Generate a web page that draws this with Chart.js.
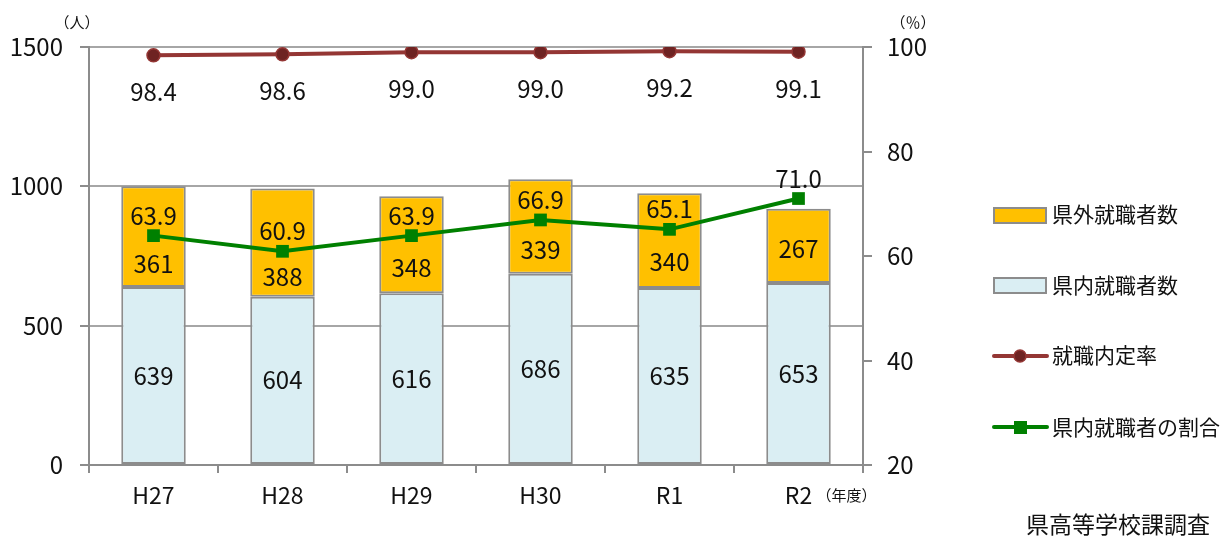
<!DOCTYPE html>
<html lang="ja">
<head>
<meta charset="utf-8">
<title>就職状況</title>
<script src="https://cdn.jsdelivr.net/npm/chart.js@4"></script>
<style>
  html, body { margin: 0; padding: 0; background: #fff; }
  #wrap { width: 1231px; height: 536px; position: relative; }
</style>
</head>
<body>
<div id="wrap"><canvas id="c" width="1231" height="536"></canvas></div>
<script>
// 年度
const years = ['H27', 'H28', 'H29', 'H30', 'R1', 'R2'];
// 県内就職者数（人）
const inPref = [639, 604, 616, 686, 635, 653];
// 県外就職者数（人）
const outPref = [361, 388, 348, 339, 340, 267];
// 就職内定率（%）
const offerRate = [98.4, 98.6, 99.0, 99.0, 99.2, 99.1];
// 県内就職者の割合（%）
const inPrefShare = [63.9, 60.9, 63.9, 66.9, 65.1, 71.0];
// 軸目盛
const countTicks = [0, 500, 1000, 1500];
const rateTicks = [20, 40, 60, 80, 100];

const FONT = "'Noto Sans CJK JP', 'Noto Sans', sans-serif";
const AXIS = '#8c8c8c';
const GRID = '#a6a6a6';
const C_OUT = '#ffc000';
const C_IN = '#daeef3';
const C_RATE = '#943634';
const C_RATE_PT = '#6e2322';
const C_SHARE = '#008000';

// 値ラベルと凡例・注記の描画
const annotate = {
  id: 'annotate',
  afterDatasetsDraw(chart) {
    const ctx = chart.ctx;
    const metaIn = chart.getDatasetMeta(0);
    const metaOut = chart.getDatasetMeta(1);
    const metaRate = chart.getDatasetMeta(2);
    const metaShare = chart.getDatasetMeta(3);
    ctx.save();
    ctx.fillStyle = '#111';
    ctx.textAlign = 'center';
    ctx.textBaseline = 'middle';
    ctx.font = '24px ' + FONT;
    years.forEach((_, i) => {
      const bIn = metaIn.data[i];
      const bOut = metaOut.data[i];
      const pR = metaRate.data[i];
      const pS = metaShare.data[i];
      // 県内：棒の中央
      ctx.fillText(String(inPref[i]), bIn.x, (bIn.y + bIn.base) / 2);
      // 県外：折れ線の点より下の部分の中央
      const top = Math.max(bOut.y, pS.y);
      ctx.fillText(String(outPref[i]), bOut.x, (top + bOut.base) / 2 + 3);
      // 割合：点の上
      ctx.fillText(inPrefShare[i].toFixed(1), pS.x, pS.y - 20);
      // 内定率：点の下
      ctx.fillText(offerRate[i].toFixed(1), pR.x, pR.y + 37);
    });

    // 単位
    ctx.font = '15px ' + FONT;
    ctx.fillText('（人）', 77, 22);
    ctx.fillText('（％）', 913, 22);
    const xs = chart.scales.x;
    ctx.textAlign = 'left';
    ctx.fillText('（年度）', xs.getPixelForValue(5) + 18, 495);

    // 出典
    ctx.font = '23px ' + FONT;
    ctx.textAlign = 'right';
    ctx.fillText('県高等学校課調査', 1210, 524);

    // 凡例
    const lx = 994, tx = 1052;
    ctx.font = '21px ' + FONT;
    ctx.textAlign = 'left';
    ctx.lineWidth = 2;
    ctx.strokeStyle = AXIS;
    ctx.fillStyle = C_OUT;
    ctx.fillRect(lx, 208, 52, 15);
    ctx.strokeRect(lx, 208, 52, 15);
    ctx.fillStyle = C_IN;
    ctx.fillRect(lx, 278, 52, 15);
    ctx.strokeRect(lx, 278, 52, 15);

    ctx.lineWidth = 4;
    ctx.lineCap = 'round';
    ctx.strokeStyle = C_RATE;
    ctx.beginPath(); ctx.moveTo(lx, 356); ctx.lineTo(lx + 53, 356); ctx.stroke();
    ctx.fillStyle = C_RATE_PT;
    ctx.lineWidth = 1.5;
    ctx.beginPath(); ctx.arc(lx + 26, 356, 6, 0, Math.PI * 2); ctx.fill(); ctx.stroke();

    ctx.lineWidth = 4;
    ctx.strokeStyle = C_SHARE;
    ctx.beginPath(); ctx.moveTo(lx, 427); ctx.lineTo(lx + 53, 427); ctx.stroke();
    ctx.fillStyle = C_SHARE;
    ctx.fillRect(lx + 20, 421, 13, 13);

    ctx.fillStyle = '#111';
    ctx.textBaseline = 'middle';
    ctx.fillText('県外就職者数', tx, 214);
    ctx.fillText('県内就職者数', tx, 285);
    ctx.fillText('就職内定率', tx, 355);
    ctx.fillText('県内就職者の割合', tx, 427);
    ctx.restore();
  }
};

new Chart(document.getElementById('c'), {
  type: 'bar',
  data: {
    labels: years,
    datasets: [
      {
        label: '県内就職者数', data: inPref, backgroundColor: C_IN,
        borderColor: AXIS, borderWidth: 2, borderSkipped: false,
        yAxisID: 'y', order: 2, barPercentage: 0.5, categoryPercentage: 1
      },
      {
        label: '県外就職者数', data: outPref, backgroundColor: C_OUT,
        borderColor: AXIS, borderWidth: 2, borderSkipped: false,
        yAxisID: 'y', order: 2, barPercentage: 0.5, categoryPercentage: 1
      },
      {
        type: 'line', label: '就職内定率', data: offerRate, yAxisID: 'y1',
        borderColor: C_RATE, borderWidth: 4, pointRadius: 6.5,
        pointBackgroundColor: C_RATE_PT, pointBorderColor: C_RATE,
        pointBorderWidth: 1.5, tension: 0, order: 0
      },
      {
        type: 'line', label: '県内就職者の割合', data: inPrefShare, yAxisID: 'y1',
        borderColor: C_SHARE, borderWidth: 4, pointStyle: 'rect', pointRadius: 9,
        pointBackgroundColor: C_SHARE, pointBorderColor: C_SHARE,
        pointBorderWidth: 0, tension: 0, order: 1
      }
    ]
  },
  plugins: [annotate],
  options: {
    responsive: false,
    animation: false,
    devicePixelRatio: 1,
    layout: { padding: { top: 47, left: 0, right: 0, bottom: 0 } },
    plugins: { legend: { display: false }, tooltip: { enabled: false } },
    scales: {
      x: {
        stacked: true,
        grid: { display: true, drawOnChartArea: false, offset: true, tickLength: 8, color: AXIS, lineWidth: 2 },
        border: { color: AXIS, width: 2 },
        ticks: { color: '#111', font: { family: FONT, size: 23 }, padding: 8 },
        afterFit(s) { s.height = 71; }
      },
      y: {
        position: 'left', stacked: true, min: 0, max: 1500,
        afterBuildTicks(s) { s.ticks = countTicks.map(v => ({ value: v })); },
        grid: { color: GRID, lineWidth: 2, tickLength: 9, tickColor: AXIS },
        border: { color: AXIS, width: 2 },
        ticks: { color: '#111', font: { family: FONT, size: 24 }, padding: 17, callback: v => String(v) },
        afterFit(s) { s.width = 89; }
      },
      y1: {
        position: 'right', min: 20, max: 100,
        afterBuildTicks(s) { s.ticks = rateTicks.map(v => ({ value: v })); },
        grid: { drawOnChartArea: false, tickLength: 9, color: AXIS, lineWidth: 2 },
        border: { color: AXIS, width: 2 },
        ticks: { color: '#111', font: { family: FONT, size: 24 }, padding: 15, callback: v => String(v) },
        afterFit(s) { s.width = 368; }
      }
    }
  }
});
</script>
</body>
</html>
